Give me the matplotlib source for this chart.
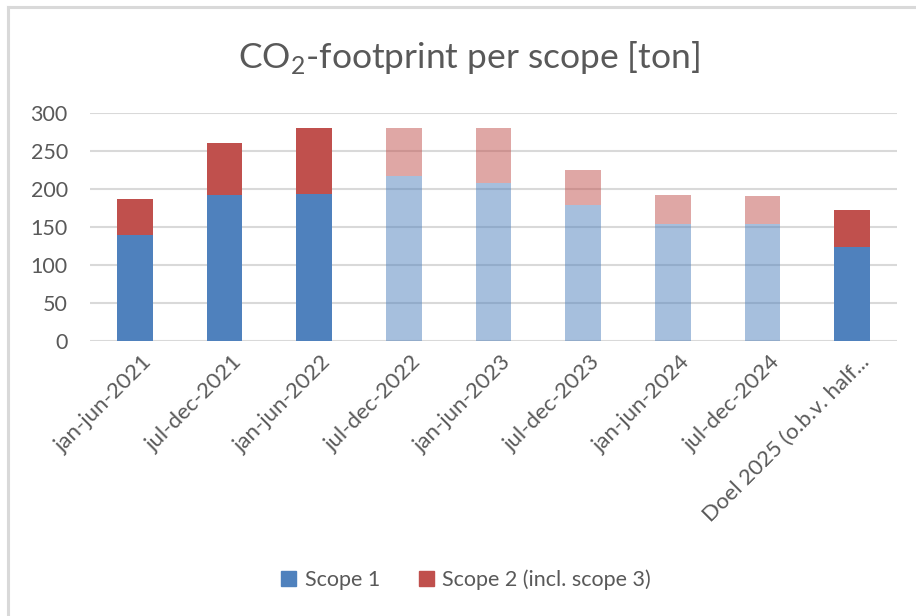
import matplotlib
matplotlib.use("Agg")
import matplotlib.pyplot as plt
import matplotlib.transforms as mtransforms
from matplotlib.lines import Line2D
import numpy as np

# ---- data ----
periods = ["jan-jun-2021", "jul-dec-2021", "jan-jun-2022", "jul-dec-2022",
           "jan-jun-2023", "jul-dec-2023", "jan-jun-2024", "jul-dec-2024",
           "Doel 2025 (o.b.v. half..."]
scope1 = [140, 192, 194, 218, 208, 179, 154, 154, 124]
totals = [187, 261, 281, 281, 281, 225, 193, 191, 172]
# which bars are drawn faded (estimates) in the original
faded = [False, False, False, True, True, True, True, True, False]

scope2 = [t - s for t, s in zip(totals, scope1)]

BLUE = "#4F81BD"
RED = "#C0504D"
GREY_TXT = "#595959"
GRID = "#D9D9D9"

plt.rcParams["font.family"] = ["Lato", "DejaVu Sans"]
plt.rcParams["mathtext.fontset"] = "custom"
plt.rcParams["mathtext.rm"] = "Lato"

fig = plt.figure(figsize=(9.16, 6.16), dpi=100)
ax = fig.add_axes([90 / 916, 1 - 341 / 616, (897 - 90) / 916, (341 - 113.3) / 616])

x = np.arange(len(periods))
alphas = [0.5 if f else 1.0 for f in faded]
for i in x:
    ax.bar(i, scope1[i], width=0.4, color=BLUE, alpha=alphas[i], zorder=3)
    ax.bar(i, scope2[i], width=0.4, bottom=scope1[i], color=RED, alpha=alphas[i], zorder=3)

ax.set_xlim(-0.5, len(periods) - 0.5)
ax.set_ylim(0, 300)
ax.set_yticks(range(0, 301, 50))
ax.yaxis.grid(True, color=GRID, lw=1.5, zorder=0)
ax.set_axisbelow(True)
for sp in ax.spines.values():
    sp.set_visible(False)

ax.tick_params(axis="y", length=0, pad=16, labelsize=15.5, labelcolor=GREY_TXT)
ax.tick_params(axis="x", length=0, pad=8, labelsize=16, labelcolor=GREY_TXT)
ax.set_xticks(x)
ax.set_xticklabels(periods, rotation=45, ha="right", rotation_mode="anchor")
shift = mtransforms.ScaledTranslation(7 / 100, 0, fig.dpi_scale_trans)
for lbl in ax.get_xticklabels():
    lbl.set_transform(lbl.get_transform() + shift)

# title with subscript
fig.text(469 / 916, 1 - 57 / 616, r"CO$_\mathrm{2}$-footprint per scope [ton]",
         ha="center", va="center", fontsize=25.5, color=GREY_TXT)

# legend
handles = [plt.Rectangle((0, 0), 1, 1, color=BLUE), plt.Rectangle((0, 0), 1, 1, color=RED)]
fig.legend(handles, ["Scope 1", "Scope 2 (incl. scope 3)"], loc="center",
           bbox_to_anchor=(466 / 916, 1 - 580 / 616), ncol=2, frameon=False,
           fontsize=15.5, labelcolor=GREY_TXT, handlelength=0.7, handleheight=0.7,
           handletextpad=0.4, columnspacing=1.8)

# outer chart border (top and left visible)
fig.add_artist(Line2D([8 / 916, 1], [1 - 7 / 616, 1 - 7 / 616], color=GRID, lw=2.2,
                      transform=fig.transFigure))
fig.add_artist(Line2D([8 / 916, 8 / 916], [0, 1 - 7 / 616], color=GRID, lw=2.2,
                      transform=fig.transFigure))

fig.savefig("out.png", dpi=100)
